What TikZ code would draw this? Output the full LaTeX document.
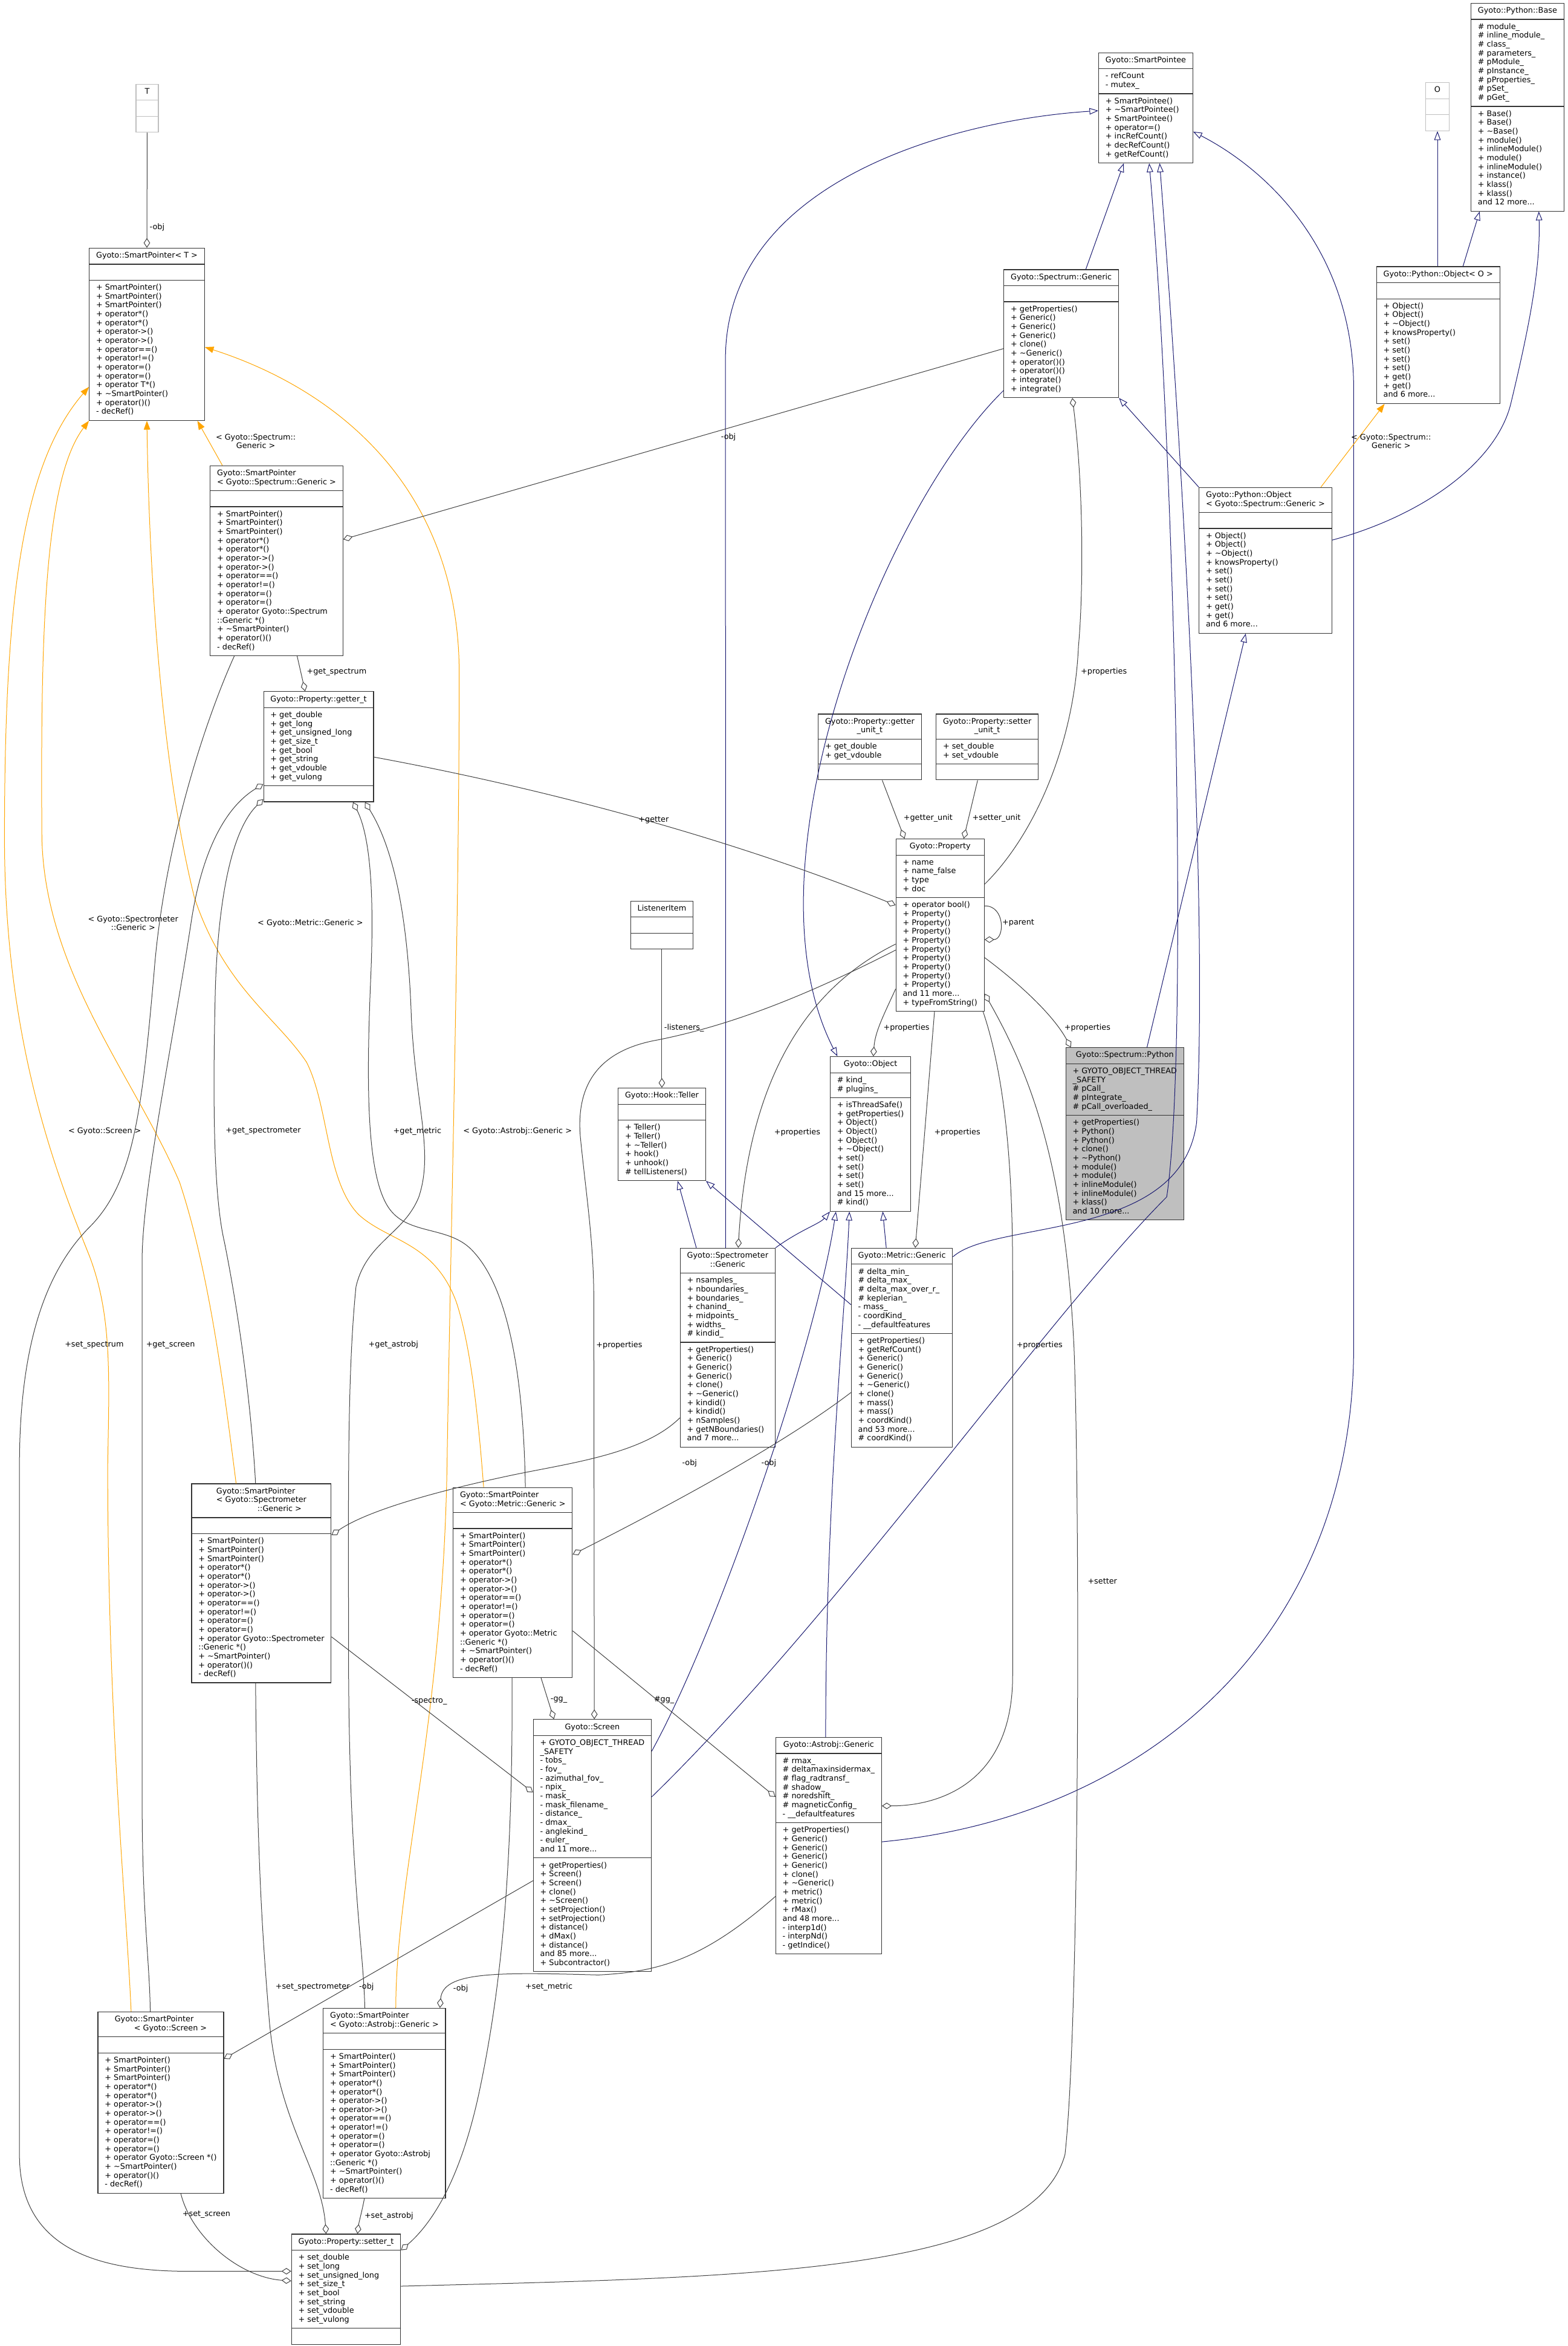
\documentclass[tikz,border=0pt]{standalone}
\usepackage{fontspec}
\setmainfont{DejaVu Sans}
\usetikzlibrary{shapes.multipart,arrows.meta,calc}
\definecolor{navy}{HTML}{191970}
\definecolor{instorange}{HTML}{FFA500}
\definecolor{edgegray}{HTML}{404040}
\definecolor{boxgray}{HTML}{BFBFBF}
\newcommand{\dxf}{\fontsize{9.6}{11}\selectfont}
\newcommand{\lcol}[1]{\begin{tabular}{@{}l@{}}#1\end{tabular}}
\newcommand{\ccol}[1]{\begin{tabular}{@{}c@{}}#1\end{tabular}}
\newcommand{\spmeth}[1]{\lcol{+ SmartPointer()\\+ SmartPointer()\\+ SmartPointer()\\+ operator*()\\+ operator*()\\+ operator->()\\+ operator->()\\+ operator==()\\+ operator!=()\\+ operator=()\\+ operator=()\\#1\\+ \textasciitilde SmartPointer()\\+ operator()()\\- decRef()}}
\newcommand{\pyobj}{\lcol{+ Object()\\+ Object()\\+ \textasciitilde Object()\\+ knowsProperty()\\+ set()\\+ set()\\+ set()\\+ set()\\+ get()\\+ get()\\and 6 more...}}
\begin{document}
\begin{tikzpicture}[x=1.856pt,y=-1.856pt,
  cls/.style={rectangle split,rectangle split parts=3,rectangle split part align={center,left,left},draw=black!80,line width=.9pt,fill=white,inner xsep=8.5pt,inner ysep=4pt,anchor=north,font=\dxf},
  tparam/.style={cls,draw=boxgray,inner xsep=11pt},
  agg/.style={draw=edgegray,line width=.75pt,-{Diamond[open,length=12pt,width=8pt]}},
  inh/.style={draw=navy,line width=.75pt,-{Triangle[open,length=11pt,width=8pt]}},
  inst/.style={draw=instorange,line width=.75pt,-{Triangle[length=11pt,width=8pt]}},
  lbl/.style={font=\dxf,inner sep=0pt,align=center}]
\useasboundingbox (0,0) rectangle (1048,1568);
% classes
\node[tparam] (T) at (98.4,56) {\strut T\nodepart{two}\strut\nodepart{three}\strut};
\node[cls] (SPT) at (98.2,165.6) {\strut Gyoto::SmartPointer< T >\nodepart{two}\strut\nodepart{three}\spmeth{+ operator T*()}};
\node[cls] (SPSG) at (184.9,311) {\lcol{Gyoto::SmartPointer\\< Gyoto::Spectrum::Generic >}\nodepart{two}\strut\nodepart{three}\spmeth{+ operator Gyoto::Spectrum\\::Generic *()}};
\node[cls] (getter) at (213,462) {\strut Gyoto::Property::getter\_t\nodepart{two}\lcol{+ get\_double\\+ get\_long\\+ get\_unsigned\_long\\+ get\_size\_t\\+ get\_bool\\+ get\_string\\+ get\_vdouble\\+ get\_vulong}\nodepart{three}\strut};
\node[cls] (pointee) at (766,35) {\strut Gyoto::SmartPointee\nodepart{two}\lcol{- refCount\\- mutex\_}\nodepart{three}\lcol{+ SmartPointee()\\+ \textasciitilde SmartPointee()\\+ SmartPointee()\\+ operator=()\\+ incRefCount()\\+ decRefCount()\\+ getRefCount()}};
\node[cls] (base) at (1014.5,2) {\strut Gyoto::Python::Base\nodepart{two}\lcol{\# module\_\\\# inline\_module\_\\\# class\_\\\# parameters\_\\\# pModule\_\\\# pInstance\_\\\# pProperties\_\\\# pSet\_\\\# pGet\_}\nodepart{three}\lcol{+ Base()\\+ Base()\\+ \textasciitilde Base()\\+ module()\\+ inlineModule()\\+ module()\\+ inlineModule()\\+ instance()\\+ klass()\\+ klass()\\and 12 more...}};
\node[tparam] (O) at (961,55) {\strut O\nodepart{two}\strut\nodepart{three}\strut};
\node[cls] (pyobjO) at (961.5,178) {\strut Gyoto::Python::Object< O >\nodepart{two}\strut\nodepart{three}\pyobj};
\node[cls] (specgen) at (709.5,180) {\strut Gyoto::Spectrum::Generic\nodepart{two}\strut\nodepart{three}\lcol{+ getProperties()\\+ Generic()\\+ Generic()\\+ Generic()\\+ clone()\\+ \textasciitilde Generic()\\+ operator()()\\+ operator()()\\+ integrate()\\+ integrate()}};
\node[cls] (pyobjSG) at (846,325.6) {\lcol{Gyoto::Python::Object\\< Gyoto::Spectrum::Generic >}\nodepart{two}\strut\nodepart{three}\pyobj};
\node[cls] (getunit) at (581.5,477) {\ccol{Gyoto::Property::getter\\\_unit\_t}\nodepart{two}\lcol{+ get\_double\\+ get\_vdouble}\nodepart{three}\strut};
\node[cls] (setunit) at (660,477) {\ccol{Gyoto::Property::setter\\\_unit\_t}\nodepart{two}\lcol{+ set\_double\\+ set\_vdouble}\nodepart{three}\strut};
\node[cls] (prop) at (628.5,560.5) {\strut Gyoto::Property\nodepart{two}\lcol{+ name\\+ name\_false\\+ type\\+ doc}\nodepart{three}\lcol{+ operator bool()\\+ Property()\\+ Property()\\+ Property()\\+ Property()\\+ Property()\\+ Property()\\+ Property()\\+ Property()\\+ Property()\\and 11 more...\\+ typeFromString()}};
\node[cls] (listener) at (442.5,602) {\strut ListenerItem\nodepart{two}\strut\nodepart{three}\strut};
\node[cls] (teller) at (442.5,727) {\strut Gyoto::Hook::Teller\nodepart{two}\strut\nodepart{three}\lcol{+ Teller()\\+ Teller()\\+ \textasciitilde Teller()\\+ hook()\\+ unhook()\\\# tellListeners()}};
\node[cls] (object) at (582,706) {\strut Gyoto::Object\nodepart{two}\lcol{\# kind\_\\\# plugins\_}\nodepart{three}\lcol{+ isThreadSafe()\\+ getProperties()\\+ Object()\\+ Object()\\+ Object()\\+ \textasciitilde Object()\\+ set()\\+ set()\\+ set()\\+ set()\\and 15 more...\\\# kind()}};
\node[cls,fill=boxgray] (specpy) at (752,700) {\strut Gyoto::Spectrum::Python\nodepart{two}\lcol{+ GYOTO\_OBJECT\_THREAD\\\_SAFETY\\\# pCall\_\\\# pIntegrate\_\\\# pCall\_overloaded\_}\nodepart{three}\lcol{+ getProperties()\\+ Python()\\+ Python()\\+ clone()\\+ \textasciitilde Python()\\+ module()\\+ module()\\+ inlineModule()\\+ inlineModule()\\+ klass()\\and 10 more...}};
\node[cls] (spectrometer) at (486.5,834) {\ccol{Gyoto::Spectrometer\\::Generic}\nodepart{two}\lcol{+ nsamples\_\\+ nboundaries\_\\+ boundaries\_\\+ chanind\_\\+ midpoints\_\\+ widths\_\\\# kindid\_}\nodepart{three}\lcol{+ getProperties()\\+ Generic()\\+ Generic()\\+ Generic()\\+ clone()\\+ \textasciitilde Generic()\\+ kindid()\\+ kindid()\\+ nSamples()\\+ getNBoundaries()\\and 7 more...}};
\node[cls] (metric) at (603,834) {\strut Gyoto::Metric::Generic\nodepart{two}\lcol{\# delta\_min\_\\\# delta\_max\_\\\# delta\_max\_over\_r\_\\\# keplerian\_\\- mass\_\\- coordKind\_\\- \_\_defaultfeatures}\nodepart{three}\lcol{+ getProperties()\\+ getRefCount()\\+ Generic()\\+ Generic()\\+ Generic()\\+ \textasciitilde Generic()\\+ clone()\\+ mass()\\+ mass()\\+ coordKind()\\and 53 more...\\\# coordKind()}};
\node[cls] (SPspm) at (174.75,991.5) {\lcol{Gyoto::SmartPointer\\< Gyoto::Spectrometer\\\hspace*{51pt}::Generic >}\nodepart{two}\strut\nodepart{three}\spmeth{+ operator Gyoto::Spectrometer\\::Generic *()}};
\node[cls] (SPmet) at (342.8,994) {\lcol{Gyoto::SmartPointer\\< Gyoto::Metric::Generic >}\nodepart{two}\strut\nodepart{three}\spmeth{+ operator Gyoto::Metric\\::Generic *()}};
\node[cls] (screen) at (396,1149) {\strut Gyoto::Screen\nodepart{two}\lcol{+ GYOTO\_OBJECT\_THREAD\\\_SAFETY\\- tobs\_\\- fov\_\\- azimuthal\_fov\_\\- npix\_\\- mask\_\\- mask\_filename\_\\- distance\_\\- dmax\_\\- anglekind\_\\- euler\_\\and 11 more...}\nodepart{three}\lcol{+ getProperties()\\+ Screen()\\+ Screen()\\+ clone()\\+ \textasciitilde Screen()\\+ setProjection()\\+ setProjection()\\+ distance()\\+ dMax()\\+ distance()\\and 85 more...\\+ Subcontractor()}};
\node[cls] (astrobj) at (554,1161) {\strut Gyoto::Astrobj::Generic\nodepart{two}\lcol{\# rmax\_\\\# deltamaxinsidermax\_\\\# flag\_radtransf\_\\\# shadow\_\\\# noredshift\_\\\# magneticConfig\_\\- \_\_defaultfeatures}\nodepart{three}\lcol{+ getProperties()\\+ Generic()\\+ Generic()\\+ Generic()\\+ Generic()\\+ clone()\\+ \textasciitilde Generic()\\+ metric()\\+ metric()\\+ rMax()\\and 48 more...\\- interp1d()\\- interpNd()\\- getIndice()}};
\node[cls] (SPscr) at (107.5,1344.5) {\lcol{Gyoto::SmartPointer\\\hspace*{24pt}< Gyoto::Screen >}\nodepart{two}\strut\nodepart{three}\spmeth{+ operator Gyoto::Screen *()}};
\node[cls] (SPast) at (257,1342) {\lcol{Gyoto::SmartPointer\\< Gyoto::Astrobj::Generic >}\nodepart{two}\strut\nodepart{three}\spmeth{+ operator Gyoto::Astrobj\\::Generic *()}};
\node[cls] (setter) at (231.4,1493) {\strut Gyoto::Property::setter\_t\nodepart{two}\lcol{+ set\_double\\+ set\_long\\+ set\_unsigned\_long\\+ set\_size\_t\\+ set\_bool\\+ set\_string\\+ set\_vdouble\\+ set\_vulong}\nodepart{three}\strut};
% inheritance
\draw[inh] ($(specgen.north west)+(55,0)$) -- ($(pointee.south west)+(17,0)$);
\draw[inh] ($(specgen.north west)+(0,81)$) .. controls (590,340) and (495,580) .. ($(object.north west)+(5,0)$);
\draw[inh] (pyobjSG.north west) -- (specgen.south east);
\draw[inh] ($(pyobjSG.north east)+(0,35.4)$) .. controls (950,345) and (1000,310) .. (1010,270) .. controls (1022,220) and (1030,180) .. ($(base.south east)+(-17,0)$);
\draw[inh] ($(pyobjO.north west)+(58,0)$) -- ($(base.south west)+(6,0)$);
\draw[inh] (O.south |- pyobjO.north) -- (O.south);
\draw[inh] ($(specpy.north west)+(54.5,0)$) -- ($(pyobjSG.south west)+(31.4,0)$);
\draw[inh] ($(spectrometer.north west)+(30.6,0)$) -- (485,240) .. controls (485,120) and (640,80) .. ($(pointee.north west)+(0,39)$);
\draw[inh] ($(spectrometer.north west)+(11,0)$) -- ($(teller.south west)+(40,0)$);
\draw[inh] (spectrometer.north east) .. controls (535,822) and (548,818) .. (object.south west);
\draw[inh] ($(metric.north west)+(0,38)$) -- (teller.south east);
\draw[inh] ($(metric.north west)+(23.6,0)$) -- ($(object.south east)+(-19,0)$);
\draw[inh] ($(metric.north east)+(0,6)$) .. controls (665,815) and (790,830) .. (800,750) .. controls (808,600) and (790,300) .. ($(pointee.south west)+(41,0)$);
\draw[inh] ($(screen.north east)+(0,21.5)$) .. controls (480,1090) and (545,900) .. ($(object.south west)+(4,0)$);
\draw[inh] ($(screen.north east)+(0,52)$) .. controls (560,1080) and (700,880) .. (780,800) .. controls (795,700) and (785,300) .. ($(pointee.south west)+(34,0)$);
\draw[inh] ($(astrobj.north west)+(33.6,0)$) .. controls (552,1000) and (565,880) .. ($(object.south west)+(13,0)$);
\draw[inh] ($(astrobj.north east)+(0,70)$) .. controls (760,1215) and (905,1100) .. (905,900) -- (905,260) .. controls (905,170) and (850,115) .. ($(pointee.north east)+(0,53)$);
% template instances
\draw[inst] ($(SPSG.north west)+(8.3,0)$) -- ($(SPT.south east)+(-5,0)$);
\draw[inst] ($(pyobjSG.north east)+(-7.5,0)$) -- ($(pyobjO.south west)+(5.6,0)$);
\draw[inst] ($(SPscr.north west)+(22.4,0)$) .. controls (85,1280) and (72,1150) .. (72,980) .. controls (73,920) and (75,880) .. (60,840) .. controls (40,790) and (3,700) .. (3,560) .. controls (3,400) and (15,310) .. ($(SPT.north west)+(0,93)$);
\draw[inst] ($(SPspm.north west)+(30,0)$) .. controls (150,930) and (140,850) .. (120,790) .. controls (90,720) and (30,650) .. (28,560) .. controls (27,420) and (30,320) .. (SPT.south west);
\draw[inst] ($(SPmet.north west)+(20.6,0)$) .. controls (320,950) and (315,900) .. (305,870) .. controls (290,830) and (260,830) .. (240,812) .. controls (218,790) and (220,740) .. (205,710) .. controls (185,680) and (150,660) .. (130,600) .. controls (110,520) and (100,400) .. (SPT.south);
\draw[inst] ($(SPast.north west)+(48.7,0)$) .. controls (265,1250) and (297,1150) .. (299,970) .. controls (302,800) and (307,600) .. (307,450) .. controls (307,330) and (230,262) .. ($(SPT.north east)+(0,66.4)$);
% members
\draw[agg] (T.south) -- (SPT.north);
\draw[agg] ($(specgen.north west)+(0,53)$) -- ($(SPSG.north east)+(0,49.5)$);
\draw[agg] ($(SPSG.south west)+(58.3,0)$) -- ($(getter.north west)+(28,0)$);
\draw[agg] ($(getter.north east)+(0,44)$) .. controls (380,530) and (500,565) .. ($(prop.north west)+(0,44.5)$);
\draw[agg] ($(getunit.south west)+(43,0)$) -- ($(prop.north west)+(6,0)$);
\draw[agg] ($(setunit.south west)+(28,0)$) -- ($(prop.north west)+(45.5,0)$);
\draw[agg] ($(prop.north east)+(0,45)$) .. controls (672,605) and (672,628) .. ($(prop.north east)+(0,67.5)$);
\draw[agg] ($(prop.north east)+(0,30.5)$) .. controls (690,560) and (718,500) .. (721,432) .. controls (724,400) and (725,330) .. ($(specgen.south west)+(46,0)$);
\draw[agg] ($(prop.north west)+(0,100.5)$) .. controls (590,680) and (585,690) .. ($(object.north west)+(29,0)$);
\draw[agg] ($(prop.north east)+(0,79.5)$) .. controls (685,660) and (705,680) .. ($(specpy.north west)+(3.6,0)$);
\draw[agg] ($(prop.north west)+(0,70.5)$) .. controls (540,660) and (500,720) .. ($(spectrometer.north west)+(39,0)$);
\draw[agg] ($(prop.north west)+(0,74.5)$) .. controls (540,665) and (490,685) .. (440,695) .. controls (400,702) and (385,725) .. (388,760) .. controls (392,800) and (397,830) .. (397,870) -- ($(screen.north west)+(41,0)$);
\draw[agg] ($(prop.south west)+(26,0)$) -- ($(metric.north west)+(43,0)$);
\draw[agg] ($(prop.south east)+(-1,0)$) .. controls (672,720) and (677,780) .. (677,850) -- (677,1120) .. controls (677,1190) and (630,1207) .. ($(astrobj.north east)+(0,46)$);
\draw[agg] ($(setter.north east)+(0,35)$) .. controls (500,1522) and (690,1520) .. (712,1440) .. controls (722,1350) and (722,1000) .. (718,900) .. controls (712,780) and (690,720) .. ($(prop.south east)+(0,-12)$);
\draw[agg] (listener.south) -- (teller.north);
\draw[agg] ($(SPscr.north west)+(35.2,0)$) .. controls (100,1310) and (95,1280) .. (95,1200) -- (95,840) .. controls (96,790) and (115,700) .. (128,615) .. controls (135,570) and (150,540) .. ($(getter.north west)+(0,62)$);
\draw[agg] ($(SPspm.north west)+(43,0)$) .. controls (168,940) and (160,880) .. (150,830) .. controls (143,800) and (142,740) .. (144,660) .. controls (146,600) and (155,555) .. ($(getter.south west)+(0,-2)$);
\draw[agg] ($(SPmet.north west)+(48.5,0)$) .. controls (350,920) and (340,860) .. (315,835) .. controls (300,820) and (275,825) .. (262,810) .. controls (244,790) and (245,720) .. (248,650) .. controls (250,600) and (248,560) .. ($(getter.south west)+(60,0)$);
\draw[agg] ($(SPast.north west)+(28,0)$) .. controls (243,1300) and (233,1250) .. (233,1100) .. controls (233,1000) and (232,920) .. (238,860) .. controls (245,830) and (270,825) .. (280,800) .. controls (290,770) and (278,740) .. (275,680) .. controls (273,620) and (265,570) .. ($(getter.south west)+(68,0)$);
\draw[agg] ($(SPSG.south west)+(16.3,0)$) .. controls (140,475) and (110,560) .. (103,650) .. controls (95,740) and (90,790) .. (60,820) .. controls (30,850) and (13,900) .. (13,980) -- (13,1440) .. controls (13,1500) and (60,1517) .. (120,1518) -- ($(setter.north west)+(0,25)$);
\draw[agg] ($(SPscr.south west)+(55.6,0)$) .. controls (128,1495) and (160,1522) .. ($(setter.north west)+(0,31.5)$);
\draw[agg] ($(SPspm.south west)+(43,0)$) .. controls (172,1250) and (176,1300) .. (180,1350) .. controls (186,1420) and (215,1450) .. ($(setter.north west)+(23.3,0)$);
\draw[agg] ($(SPast.south west)+(27.7,0)$) .. controls (242,1478) and (240,1485) .. ($(setter.north west)+(44.3,0)$);
\draw[agg] ($(SPmet.south west)+(39.6,0)$) .. controls (343,1250) and (335,1330) .. (320,1400) .. controls (308,1455) and (290,1485) .. ($(setter.north east)+(0,11)$);
\draw[agg] ($(spectrometer.north west)+(0,113.6)$) .. controls (430,972) and (380,978) .. (342,986) .. controls (290,997) and (245,1010) .. ($(SPspm.north east)+(0,34.5)$);
\draw[agg] ($(metric.north west)+(0,96.7)$) .. controls (520,968) and (440,1010) .. ($(SPmet.north east)+(0,45)$);
\draw[agg] ($(screen.north west)+(0,108)$) -- ($(SPscr.north east)+(0,31.5)$);
\draw[agg] ($(astrobj.north west)+(0,106.5)$) .. controls (470,1310) and (440,1318) .. (400,1320) .. controls (330,1318) and (296,1318) .. ($(SPast.north east)+(-4,0)$);
\draw[agg] ($(SPspm.north east)+(0,102.5)$) -- ($(screen.north west)+(0,49)$);
\draw[agg] ($(SPmet.south west)+(59,0)$) -- ($(screen.north west)+(14,0)$);
\draw[agg] ($(SPmet.north east)+(0,96)$) -- ($(astrobj.north west)+(0,40)$);
% labels
\node[lbl,anchor=west] (lobjT) at (100,152) {-obj};
\node[lbl] (lspecT) at (171,295) {< Gyoto::Spectrum::\\Generic >};
\node[lbl] (lspecO) at (930,295) {< Gyoto::Spectrum::\\Generic >};
\node[lbl] (lscrT) at (70,756) {< Gyoto::Screen >};
\node[lbl] (lspmT) at (89,617) {< Gyoto::Spectrometer\\::Generic >};
\node[lbl] (lmetT) at (207.5,617) {< Gyoto::Metric::Generic >};
\node[lbl] (lastT) at (346,756) {< Gyoto::Astrobj::Generic >};
\node[lbl] (lobjSG) at (487,292) {-obj};
\node[lbl,anchor=west] (lgspec) at (205,449) {+get\_spectrum};
\node[lbl] (lgetter) at (437,548) {+getter};
\node[lbl,anchor=west] (lgunit) at (604,547) {+getter\_unit};
\node[lbl,anchor=west] (lsunit) at (650,547) {+setter\_unit};
\node[lbl,anchor=west] (lparent) at (670,617) {+parent};
\node[lbl] (lpsg) at (738,449) {+properties};
\node[lbl] (lpobj) at (606,687) {+properties};
\node[lbl] (lppy) at (727,687) {+properties};
\node[lbl] (lpspm) at (533,757) {+properties};
\node[lbl] (lpmet) at (640,757) {+properties};
\node[lbl] (lpscr) at (414,899) {+properties};
\node[lbl] (lpast) at (695,899) {+properties};
\node[lbl] (lsetter) at (737,1057) {+setter};
\node[lbl,anchor=west] (llist) at (444,687) {-listeners\_};
\node[lbl] (lgscr) at (114,899) {+get\_screen};
\node[lbl] (lgspm) at (176,756) {+get\_spectrometer};
\node[lbl] (lgmet) at (279,756) {+get\_metric};
\node[lbl] (lgast) at (263,899) {+get\_astrobj};
\node[lbl] (lsspec) at (63,899) {+set\_spectrum};
\node[lbl] (lsscr) at (138,1480) {+set\_screen};
\node[lbl] (lsspm) at (209,1328) {+set\_spectrometer};
\node[lbl] (lsast) at (260,1481) {+set\_astrobj};
\node[lbl] (lsmet) at (367,1328) {+set\_metric};
\node[lbl] (lobjspm) at (461,978) {-obj};
\node[lbl] (lobjmet) at (514,978) {-obj};
\node[lbl] (lobjscr) at (245,1328) {-obj};
\node[lbl] (lobjast) at (308,1329) {-obj};
\node[lbl] (lspectro) at (287,1137) {-spectro\_};
\node[lbl,anchor=west] (lgg) at (368,1136) {-gg\_};
\node[lbl] (lggast) at (444,1136) {\#gg\_};
\end{tikzpicture}
\end{document}
